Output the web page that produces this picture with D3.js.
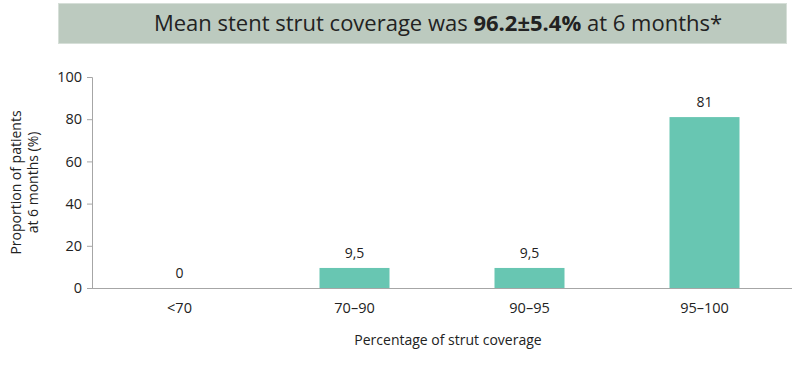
<!DOCTYPE html>
<html><head><meta charset="utf-8">
<script src="https://cdn.jsdelivr.net/npm/d3@7"></script>
<style>body{margin:0;background:#fff}svg{display:block}text{font-family:"Open Sans",sans-serif;fill:#222}</style>
</head><body>
<svg id="c" width="808" height="365"></svg>
<script>
const categories = ["<70", "70–90", "90–95", "95–100"];
const values = [0, 9.5, 9.5, 81];
const valueLabels = ["0", "9,5", "9,5", "81"];
const yTicks = [0, 20, 40, 60, 80, 100];

const svg = d3.select("#c");
const m = {l: 92, r: 16, t: 77, b: 77};
const W = 808, H = 365;
const x = d3.scaleBand().domain(categories).range([m.l, W - m.r]).paddingInner(0.6).paddingOuter(0.3);
const y = d3.scaleLinear().domain([0, 100]).range([H - m.b, m.t]);

// title box
svg.append("rect").attr("x", 58.5).attr("y", 3.5).attr("width", 728).attr("height", 40)
  .attr("fill", "#bccabf").attr("stroke", "#d6dfd8").attr("stroke-width", 1);
const t = svg.append("text").attr("x", 438).attr("y", 31).attr("text-anchor", "middle")
  .style("font-size", "22px");
t.append("tspan").text("Mean stent strut coverage was ");
t.append("tspan").style("font-weight", "bold").text("96.2±5.4%");
t.append("tspan").text(" at 6 months*");

// bars
svg.selectAll("rect.bar").data(values).enter().append("rect").attr("class", "bar")
  .attr("x", (d, i) => x(categories[i])).attr("width", x.bandwidth())
  .attr("y", d => y(d)).attr("height", d => y(0) - y(d)).attr("fill", "#68c6b2");

svg.selectAll("text.val").data(values).enter().append("text").attr("class", "val")
  .attr("x", (d, i) => x(categories[i]) + x.bandwidth() / 2)
  .attr("y", d => y(d) - 10).attr("text-anchor", "middle").style("font-size", "14px")
  .text((d, i) => valueLabels[i]);

// y axis
const ya = svg.append("g").attr("transform", `translate(${m.l},0)`)
  .call(d3.axisLeft(y).tickValues(yTicks).tickSize(5).tickPadding(5));
ya.select(".domain").attr("stroke", "#a6a6a6");
ya.selectAll(".tick line").attr("stroke", "#a6a6a6");
ya.selectAll(".tick text").style("font-size", "14.5px").style("font-family", "'Open Sans',sans-serif").attr("fill", "#222");

// x axis
const xa = svg.append("g").attr("transform", `translate(0,${y(0)})`)
  .call(d3.axisBottom(x).tickSize(0).tickPadding(15));
xa.select(".domain").attr("stroke", "#a6a6a6").attr("d", `M${m.l},0.5H${W - m.r}`);
xa.selectAll(".tick text").style("font-size", "14.5px").style("font-family", "'Open Sans',sans-serif").attr("fill", "#222");

svg.append("text").attr("x", 448).attr("y", 345).attr("text-anchor", "middle").style("font-size", "14px")
  .text("Percentage of strut coverage");

const yl = svg.append("text").attr("transform", `translate(0,${(y(0) + y(100)) / 2}) rotate(-90)`)
  .attr("text-anchor", "middle").style("font-size", "14px");
yl.append("tspan").attr("x", 0).attr("y", 21).text("Proportion of patients");
yl.append("tspan").attr("x", 0).attr("y", 38).text("at 6 months (%)");
</script>
</body></html>
